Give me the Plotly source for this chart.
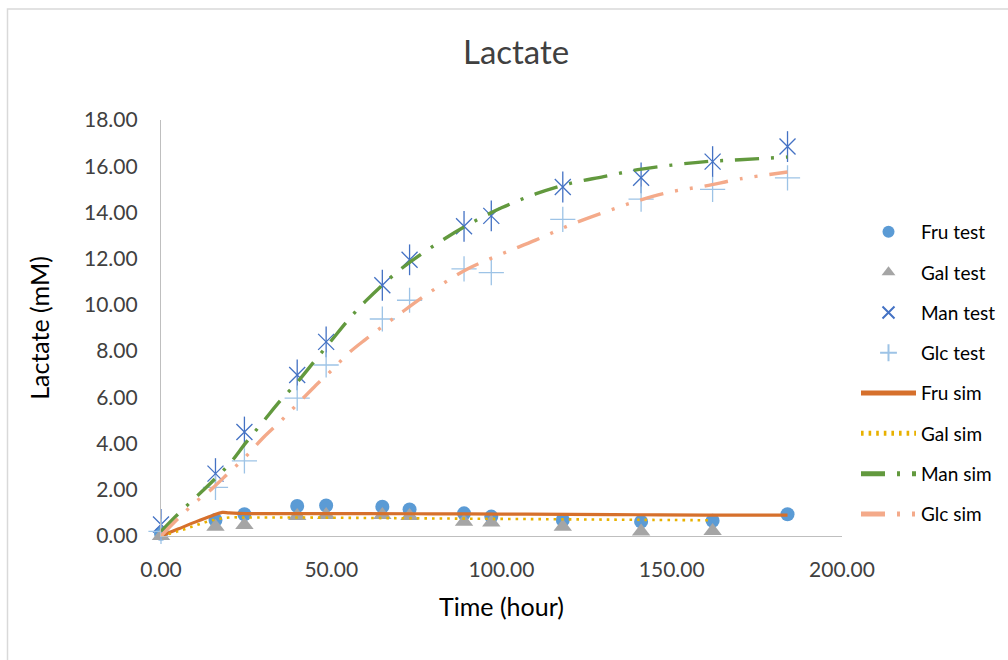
import plotly.graph_objects as go

# ---- measured data ----
test_time = [0, 16, 24.5, 40, 48.5, 65, 73, 89, 97, 118, 141, 162, 184]
fru_test = [0.1, 0.69, 0.94, 1.3, 1.32, 1.27, 1.15, 0.98, 0.84, 0.69, 0.62, 0.66, 0.94]
gal_time = [0, 16, 24.5, 40, 48.5, 65, 73, 89, 97, 118, 141, 162]
gal_test = [0.0, 0.4, 0.48, 0.87, 0.91, 0.91, 0.87, 0.62, 0.58, 0.4, 0.19, 0.22]
man_test = [0.5, 2.7, 4.5, 6.97, 8.4, 10.85, 11.95, 13.4, 13.85, 15.1, 15.5, 16.2, 16.85]
glc_test = [0.2, 2.1, 3.25, 5.97, 7.4, 9.39, 10.2, 11.56, 11.4, 13.7, 14.58, 15.0, 15.5]

# ---- simulated curves ----
fru_sim_time = [0, 5, 10, 15, 18, 20, 25, 40, 60, 80, 100, 120, 140, 160, 184]
fru_sim = [0.0, 0.3, 0.6, 0.88, 1.02, 1.0, 0.97, 0.97, 0.97, 0.96, 0.95, 0.94, 0.92, 0.9, 0.9]
gal_sim_time = [0, 5, 10, 15, 20, 25, 40, 60, 80, 100, 120, 140, 162]
gal_sim = [0.0, 0.2, 0.45, 0.68, 0.8, 0.8, 0.8, 0.78, 0.76, 0.74, 0.72, 0.7, 0.68]
sim_time = [0, 5, 10, 15, 20, 25, 30, 35, 40, 45, 50, 55, 60, 70, 80, 90, 100, 110, 120, 130, 140, 150, 160, 170, 184]
man_sim = [0.2, 0.95, 1.65, 2.35, 3.1, 4.05, 4.95, 5.85, 6.65, 7.55, 8.45, 9.35, 10.15, 11.5, 12.55,
           13.45, 14.2, 14.8, 15.25, 15.55, 15.85, 16.05, 16.2, 16.28, 16.4]
glc_sim = [0.0, 0.75, 1.45, 2.05, 2.75, 3.45, 4.25, 4.95, 5.7, 6.45, 7.15, 7.9, 8.5, 9.6, 10.65,
           11.55, 12.2, 12.8, 13.45, 14.0, 14.5, 14.9, 15.15, 15.45, 15.75]

x_ticks = [0, 50, 100, 150, 200]
y_ticks = [0, 2, 4, 6, 8, 10, 12, 14, 16, 18]

FONT = "Lato"
fig = go.Figure()

fig.add_trace(go.Scatter(x=test_time, y=fru_test, mode="markers", name="Fru test",
                         legendgroup="a",
                         marker=dict(symbol="circle", size=14, color="#5B9BD5"), cliponaxis=False))
fig.add_trace(go.Scatter(x=gal_time, y=gal_test, mode="markers", name="Gal test",
                         legendgroup="b",
                         marker=dict(symbol="triangle-up", size=16, color="#A5A5A5"), cliponaxis=False))
fig.add_trace(go.Scatter(x=test_time, y=man_test, mode="markers", name="Man test",
                         legendgroup="c",
                         marker=dict(symbol="x-thin-open", size=16, color="#4472C4",
                                     line=dict(color="#4472C4", width=1.3)), cliponaxis=False))
fig.add_trace(go.Scatter(x=test_time, y=man_test, mode="markers", name="Man test",
                         legendgroup="c", showlegend=False,
                         marker=dict(symbol="line-ns-open", size=22, color="#4472C4",
                                     line=dict(color="#4472C4", width=1.3)), cliponaxis=False))
fig.add_trace(go.Scatter(x=test_time, y=glc_test, mode="markers", name="Glc test",
                         legendgroup="d",
                         marker=dict(symbol="cross-thin-open", size=18, color="#9DC3E6",
                                     line=dict(color="#9DC3E6", width=1.3)), cliponaxis=False))

fig.add_trace(go.Scatter(x=fru_sim_time, y=fru_sim, mode="lines", name="Fru sim", legendgroup="e",
                         line=dict(color="#D6702C", width=3.2, shape="spline"), cliponaxis=False))
fig.add_trace(go.Scatter(x=gal_sim_time, y=gal_sim, mode="lines", name="Gal sim", legendgroup="f",
                         line=dict(color="#E8B100", width=2.6, dash="2.6px,5px", shape="spline"),
                         cliponaxis=False))
fig.add_trace(go.Scatter(x=sim_time, y=man_sim, mode="lines", name="Man sim", legendgroup="g",
                         line=dict(color="#62993E", width=3.4, dash="24px,12px,3px,12px", shape="spline"),
                         cliponaxis=False))
fig.add_trace(go.Scatter(x=sim_time, y=glc_sim, mode="lines", name="Glc sim", legendgroup="h",
                         line=dict(color="#F4AA8A", width=3.4, dash="24px,12px,3px,12px,3px,12px",
                                   shape="spline"),
                         cliponaxis=False))

L, R, T, B = 161, 166, 120, 124
W, H = 1008, 660
pw, ph = W - L - R, H - T - B

fig.update_layout(
    width=W, height=H,
    margin=dict(l=L, r=R, t=T, b=B, autoexpand=False),
    paper_bgcolor="white", plot_bgcolor="white",
    font=dict(family=FONT, color="#404040"),
    title=dict(text="Lactate", x=0.512, xanchor="center", y=1 - 52 / H, yanchor="middle",
               font=dict(family=FONT, size=33, color="#404040")),
    showlegend=True,
    legend=dict(x=(856 - L) / pw, xanchor="left", y=(536 - 213) / ph, yanchor="top",
                font=dict(family=FONT, size=19, color="#000000"),
                tracegroupgap=12.6, itemwidth=55, itemsizing="constant", bgcolor="rgba(0,0,0,0)",
                traceorder="grouped"),
    xaxis=dict(range=[0, 200], tickvals=x_ticks, tickformat=".2f", showgrid=False, zeroline=False,
               showline=True, linecolor="#BFBFBF", linewidth=1.3,
               ticks="outside", ticklen=15, tickcolor="rgba(0,0,0,0)",
               tickfont=dict(family=FONT, size=21, color="#404040"),
               title=dict(text="Time (hour)", standoff=18,
                          font=dict(family=FONT, size=25, color="#000000")),
               automargin=False),
    yaxis=dict(range=[0, 18], tickvals=y_ticks, tickformat=".2f", showgrid=False, zeroline=False,
               showline=True, linecolor="#BFBFBF", linewidth=1.3,
               ticks="outside", ticklen=18, tickcolor="rgba(0,0,0,0)",
               tickfont=dict(family=FONT, size=21, color="#404040"),
               title=dict(text="Lactate (mM)", standoff=27,
                          font=dict(family=FONT, size=25, color="#000000")),
               automargin=False),
    shapes=[dict(type="rect", xref="paper", yref="paper",
                 x0=(7.5 - L) / pw, x1=(1015 - L) / pw,
                 y0=(536 - 670) / ph, y1=(536 - 9) / ph,
                 line=dict(color="#D9D9D9", width=1.5), fillcolor="rgba(0,0,0,0)", layer="below")],
)

fig.write_html("out.html")
